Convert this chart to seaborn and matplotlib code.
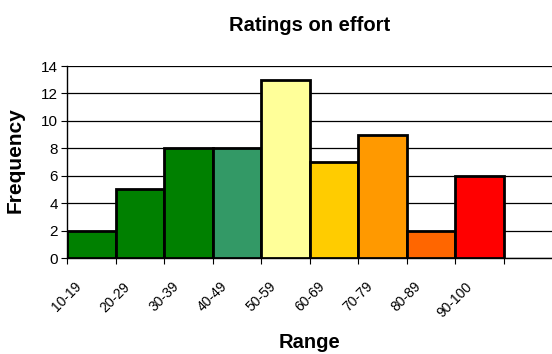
import matplotlib
matplotlib.use("Agg")
import matplotlib.pyplot as plt
import seaborn as sns
import pandas as pd
import numpy as np

ranges = ["10-19", "20-29", "30-39", "40-49", "50-59", "60-69", "70-79", "80-89", "90-100"]
frequency = [2, 5, 8, 8, 13, 7, 9, 2, 6]
bar_colors = ["#008000", "#008000", "#008000", "#339966", "#FFFF99",
              "#FFCC00", "#FF9900", "#FF6600", "#FF0000"]

sns.set_style("white")
plt.rcParams["font.family"] = ["Liberation Sans", "DejaVu Sans"]
plt.rcParams["text.color"] = "black"
plt.rcParams["axes.labelcolor"] = "black"
plt.rcParams["xtick.color"] = "black"
plt.rcParams["ytick.color"] = "black"

df = pd.DataFrame({"Range": ranges, "Frequency": frequency})

fig = plt.figure(figsize=(5.52, 3.54), dpi=100)
ax = fig.add_axes([67 / 552, 1 - 258 / 354, 1 - 67 / 552, (258 - 66) / 354])

sns.barplot(data=df, x="Range", y="Frequency", hue="Range", palette=bar_colors,
            legend=False, width=1.0, edgecolor="black", linewidth=2.0,
            saturation=1, ax=ax, zorder=3)

ax.set_xlim(-0.5, len(ranges) + 0.5)
ax.set_ylim(0, 14)
ax.set_yticks(np.arange(0, 15, 2))
ax.yaxis.grid(True, color="black", linewidth=0.9, zorder=0)
ax.set_axisbelow(True)

tick_pos = np.arange(len(ranges) + 1) - 0.5
ax.set_xticks(tick_pos)
ax.set_xticklabels(ranges + [""], rotation=45, ha="center", fontsize=10)
ax.tick_params(axis="x", direction="out", length=4, width=0.8, color="black",
               bottom=True, pad=11.5)
ax.tick_params(axis="y", direction="out", length=4, width=0.8, color="black",
               left=True, labelsize=11, pad=2.5)
for lbl in ax.get_xticklabels():
    lbl.set_va("top")

for side in ["top", "right"]:
    ax.spines[side].set_visible(False)
for side in ["left", "bottom"]:
    ax.spines[side].set_color("black")
    ax.spines[side].set_linewidth(1.0)

ax.set_title("Ratings on effort", fontsize=14.5, fontweight="bold", pad=25)
ax.set_xlabel("Range", fontsize=14.5, fontweight="bold")
ax.set_ylabel("Frequency", fontsize=15, fontweight="bold")
ax.xaxis.set_label_coords(0.499, -0.39)
ax.yaxis.set_label_coords(-0.087, 0.51)

fig.savefig("out.png", dpi=100)
